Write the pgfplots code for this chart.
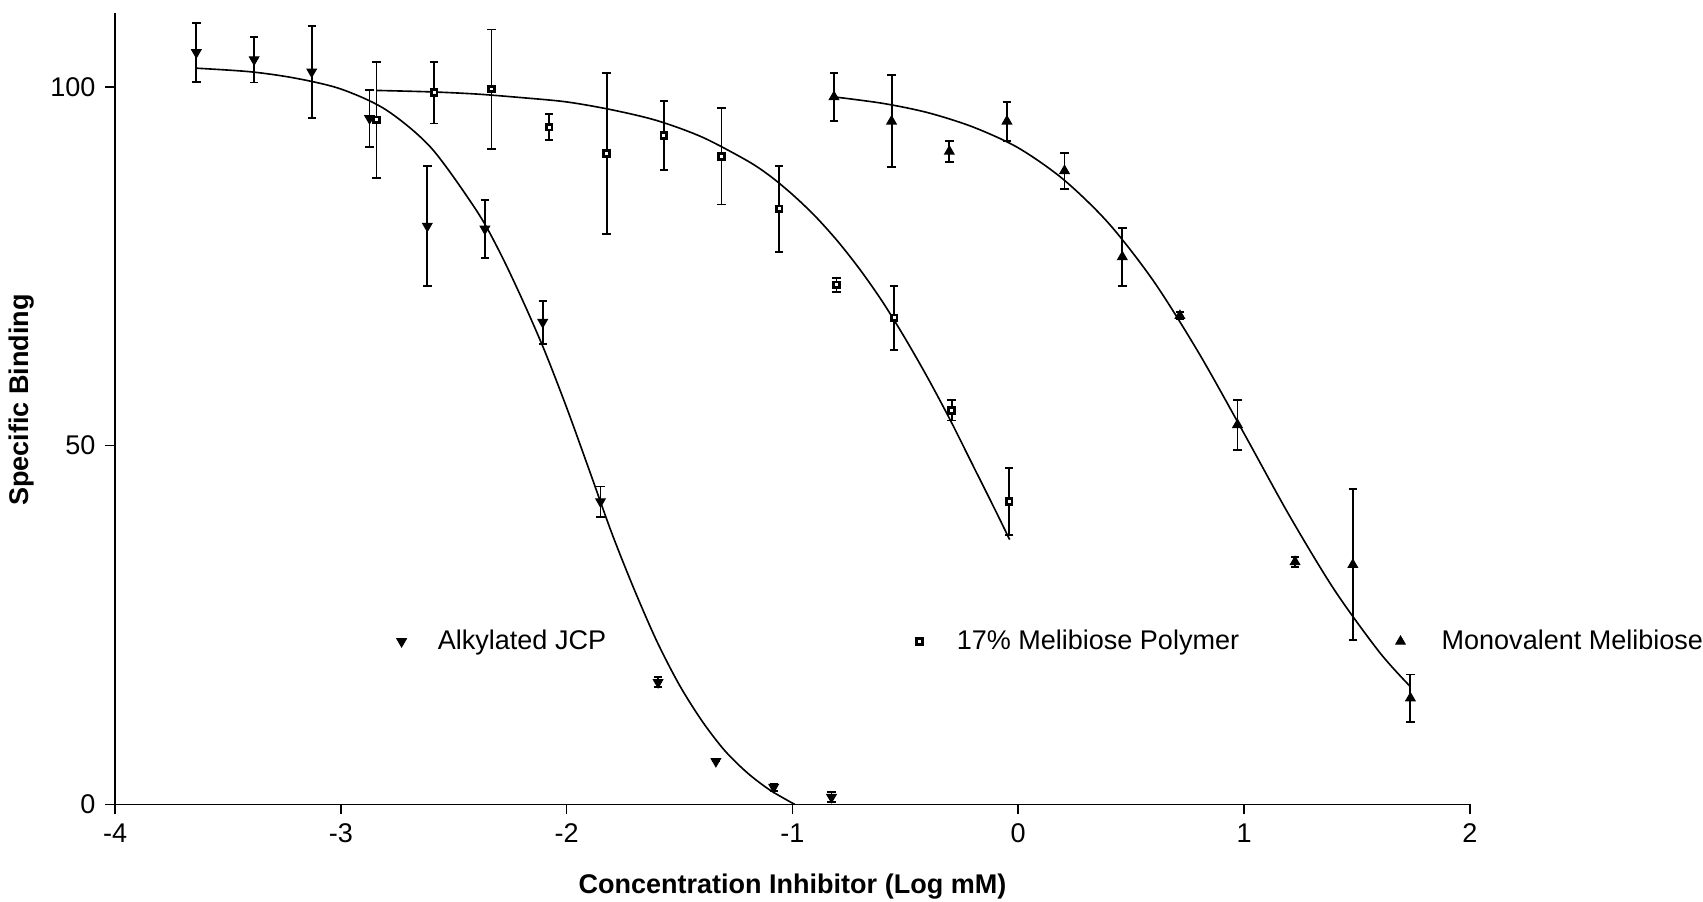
\documentclass[border=0pt]{standalone}
\usepackage{fontspec}
\setmainfont{Liberation Sans}
\usepackage{pgfplots}
\pgfplotsset{compat=1.18}

\begin{document}
\begin{tikzpicture}
\begin{axis}[
  scale only axis,
  width=501.4pt, height=292.9pt,
  xmin=-4, xmax=2, ymin=0, ymax=110.3,
  axis lines=left,
  axis line style={-, line width=0.6pt},
  every tick/.style={black, line width=0.6pt},
  tick align=outside,
  major tick length=3.7pt,
  xtick={-4,-3,-2,-1,0,1,2}, ytick={0,50,100},
  /pgf/number format/assume math mode=true,
  xlabel={\bfseries Concentration Inhibitor (Log mM)},
  ylabel={\bfseries Specific Binding},
  xlabel style={at={(axis description cs:0.5,-0.104)}, anchor=center, inner sep=0pt},
  ylabel style={at={(axis description cs:-0.0690,0.511)}, anchor=center, inner sep=0pt},
  clip=false,
  legend columns=3,
  legend style={draw=none, fill=none, inner sep=0pt,
    at={(axis cs:-2.754,22.7)}, anchor=west,
    nodes={inner sep=0pt},
    /tikz/every odd column/.append style={column sep=11.7pt},
    /tikz/every even column/.append style={column sep=58pt}},
  legend image code/.code={\draw[#1] plot coordinates {(0pt,0pt)};},
  error bars/error bar style={line width=0.7pt},
  error bars/error mark options={rotate=90, mark size=1.55pt, line width=0.7pt},
]

% fitted curves
\addplot[black, line width=0.6pt, smooth, forget plot] coordinates {
  (-3.64,102.6) (-3.4,102.1) (-3.2,101.2) (-3.0,99.7) (-2.8,96.8) (-2.6,91.5)
  (-2.4,82.8) (-2.3,77.2) (-2.2,70.6) (-2.1,63.4) (-2.0,55.3) (-1.9,46.6)
  (-1.8,37.8) (-1.7,29.9) (-1.6,22.7) (-1.5,16.6) (-1.4,11.6) (-1.3,7.5)
  (-1.2,4.4) (-1.1,2.0) (-0.99,0)};
\addplot[black, line width=0.6pt, smooth, forget plot] coordinates {
  (-2.84,99.5) (-2.6,99.3) (-2.4,99.0) (-2.2,98.5) (-2.0,97.9) (-1.8,96.8)
  (-1.6,95.3) (-1.4,93.0) (-1.2,89.7) (-1.1,87.6) (-1.0,85.0) (-0.9,82.0)
  (-0.8,78.5) (-0.7,74.5) (-0.6,70.0) (-0.5,64.9) (-0.4,59.4) (-0.3,53.5)
  (-0.2,47.2) (-0.1,40.9) (-0.038,36.9)};
\addplot[black, line width=0.6pt, smooth, forget plot] coordinates {
  (-0.816,98.6) (-0.6,97.7) (-0.4,96.4) (-0.2,94.4) (0.0,91.5) (0.2,87.1)
  (0.4,81.0) (0.6,72.9) (0.8,62.9) (1.0,51.7) (1.2,40.3) (1.4,29.9)
  (1.6,21.2) (1.737,16.4)};

% Alkylated JCP
\addplot[only marks, black, mark=triangle*, mark size=2pt,
  mark options={rotate=180, fill=black},
  error bars/.cd, y dir=both, y explicit] coordinates {
  (-3.640,104.8) +- (0,4.1)
  (-3.384,103.8) +- (0,3.2)
  (-3.129,102.1) +- (0,6.4)
  (-2.873,95.6) +- (0,4.0)
  (-2.617,80.6) +- (0,8.4)
  (-2.362,80.2) +- (0,4.0)
  (-2.106,67.2) +- (0,3.0)
  (-1.850,42.2) +- (0,2.1)
  (-1.595,17.0) +- (0,0.7)
  (-1.339,6.0) +- (0,0)
  (-1.083,2.4) +- (0,0.5)
  (-0.827,1.0) +- (0,0.7)};
\addlegendentry{Alkylated JCP\hspace{57pt}\mbox{}}

% 17% Melibiose Polymer
\addplot[only marks, black, mark=square*, mark size=1.05pt,
  mark options={fill=white, line width=1pt},
  error bars/.cd, y dir=both, y explicit] coordinates {
  (-2.842,95.4) +- (0,8.1)
  (-2.587,99.2) +- (0,4.3)
  (-2.333,99.7) +- (0,8.3)
  (-2.078,94.4) +- (0,1.8)
  (-1.823,90.7) +- (0,11.2)
  (-1.569,93.2) +- (0,4.8)
  (-1.314,90.3) +- (0,6.7)
  (-1.059,83.0) +- (0,6.0)
  (-0.805,72.4) +- (0,1.0)
  (-0.550,67.8) +- (0,4.5)
  (-0.295,54.9) +- (0,1.4)
  (-0.040,42.2) +- (0,4.7)};
\addlegendentry{\mbox{}\hspace{1pt}17\% Melibiose Polymer}

% Monovalent Melibiose
\addplot[only marks, black, mark=triangle*, mark size=2pt,
  mark options={fill=black},
  error bars/.cd, y dir=both, y explicit] coordinates {
  (-0.816,98.6) +- (0,3.3)
  (-0.561,95.2) +- (0,6.4)
  (-0.305,91.0) +- (0,1.5)
  (-0.050,95.2) +- (0,2.7)
  (0.205,88.3) +- (0,2.5)
  (0.461,76.3) +- (0,4.0)
  (0.716,68.1) +- (0,0.5)
  (0.971,52.9) +- (0,3.5)
  (1.226,33.8) +- (0,0.7)
  (1.482,33.4) +- (0,10.5)
  (1.737,14.8) +- (0,3.3)};
\addlegendentry{\mbox{}\hspace{1.8pt}Monovalent Melibiose}

\end{axis}
\path (-42.58pt,-35.96pt) rectangle (587.4pt,297.7pt);
\end{tikzpicture}
\end{document}
